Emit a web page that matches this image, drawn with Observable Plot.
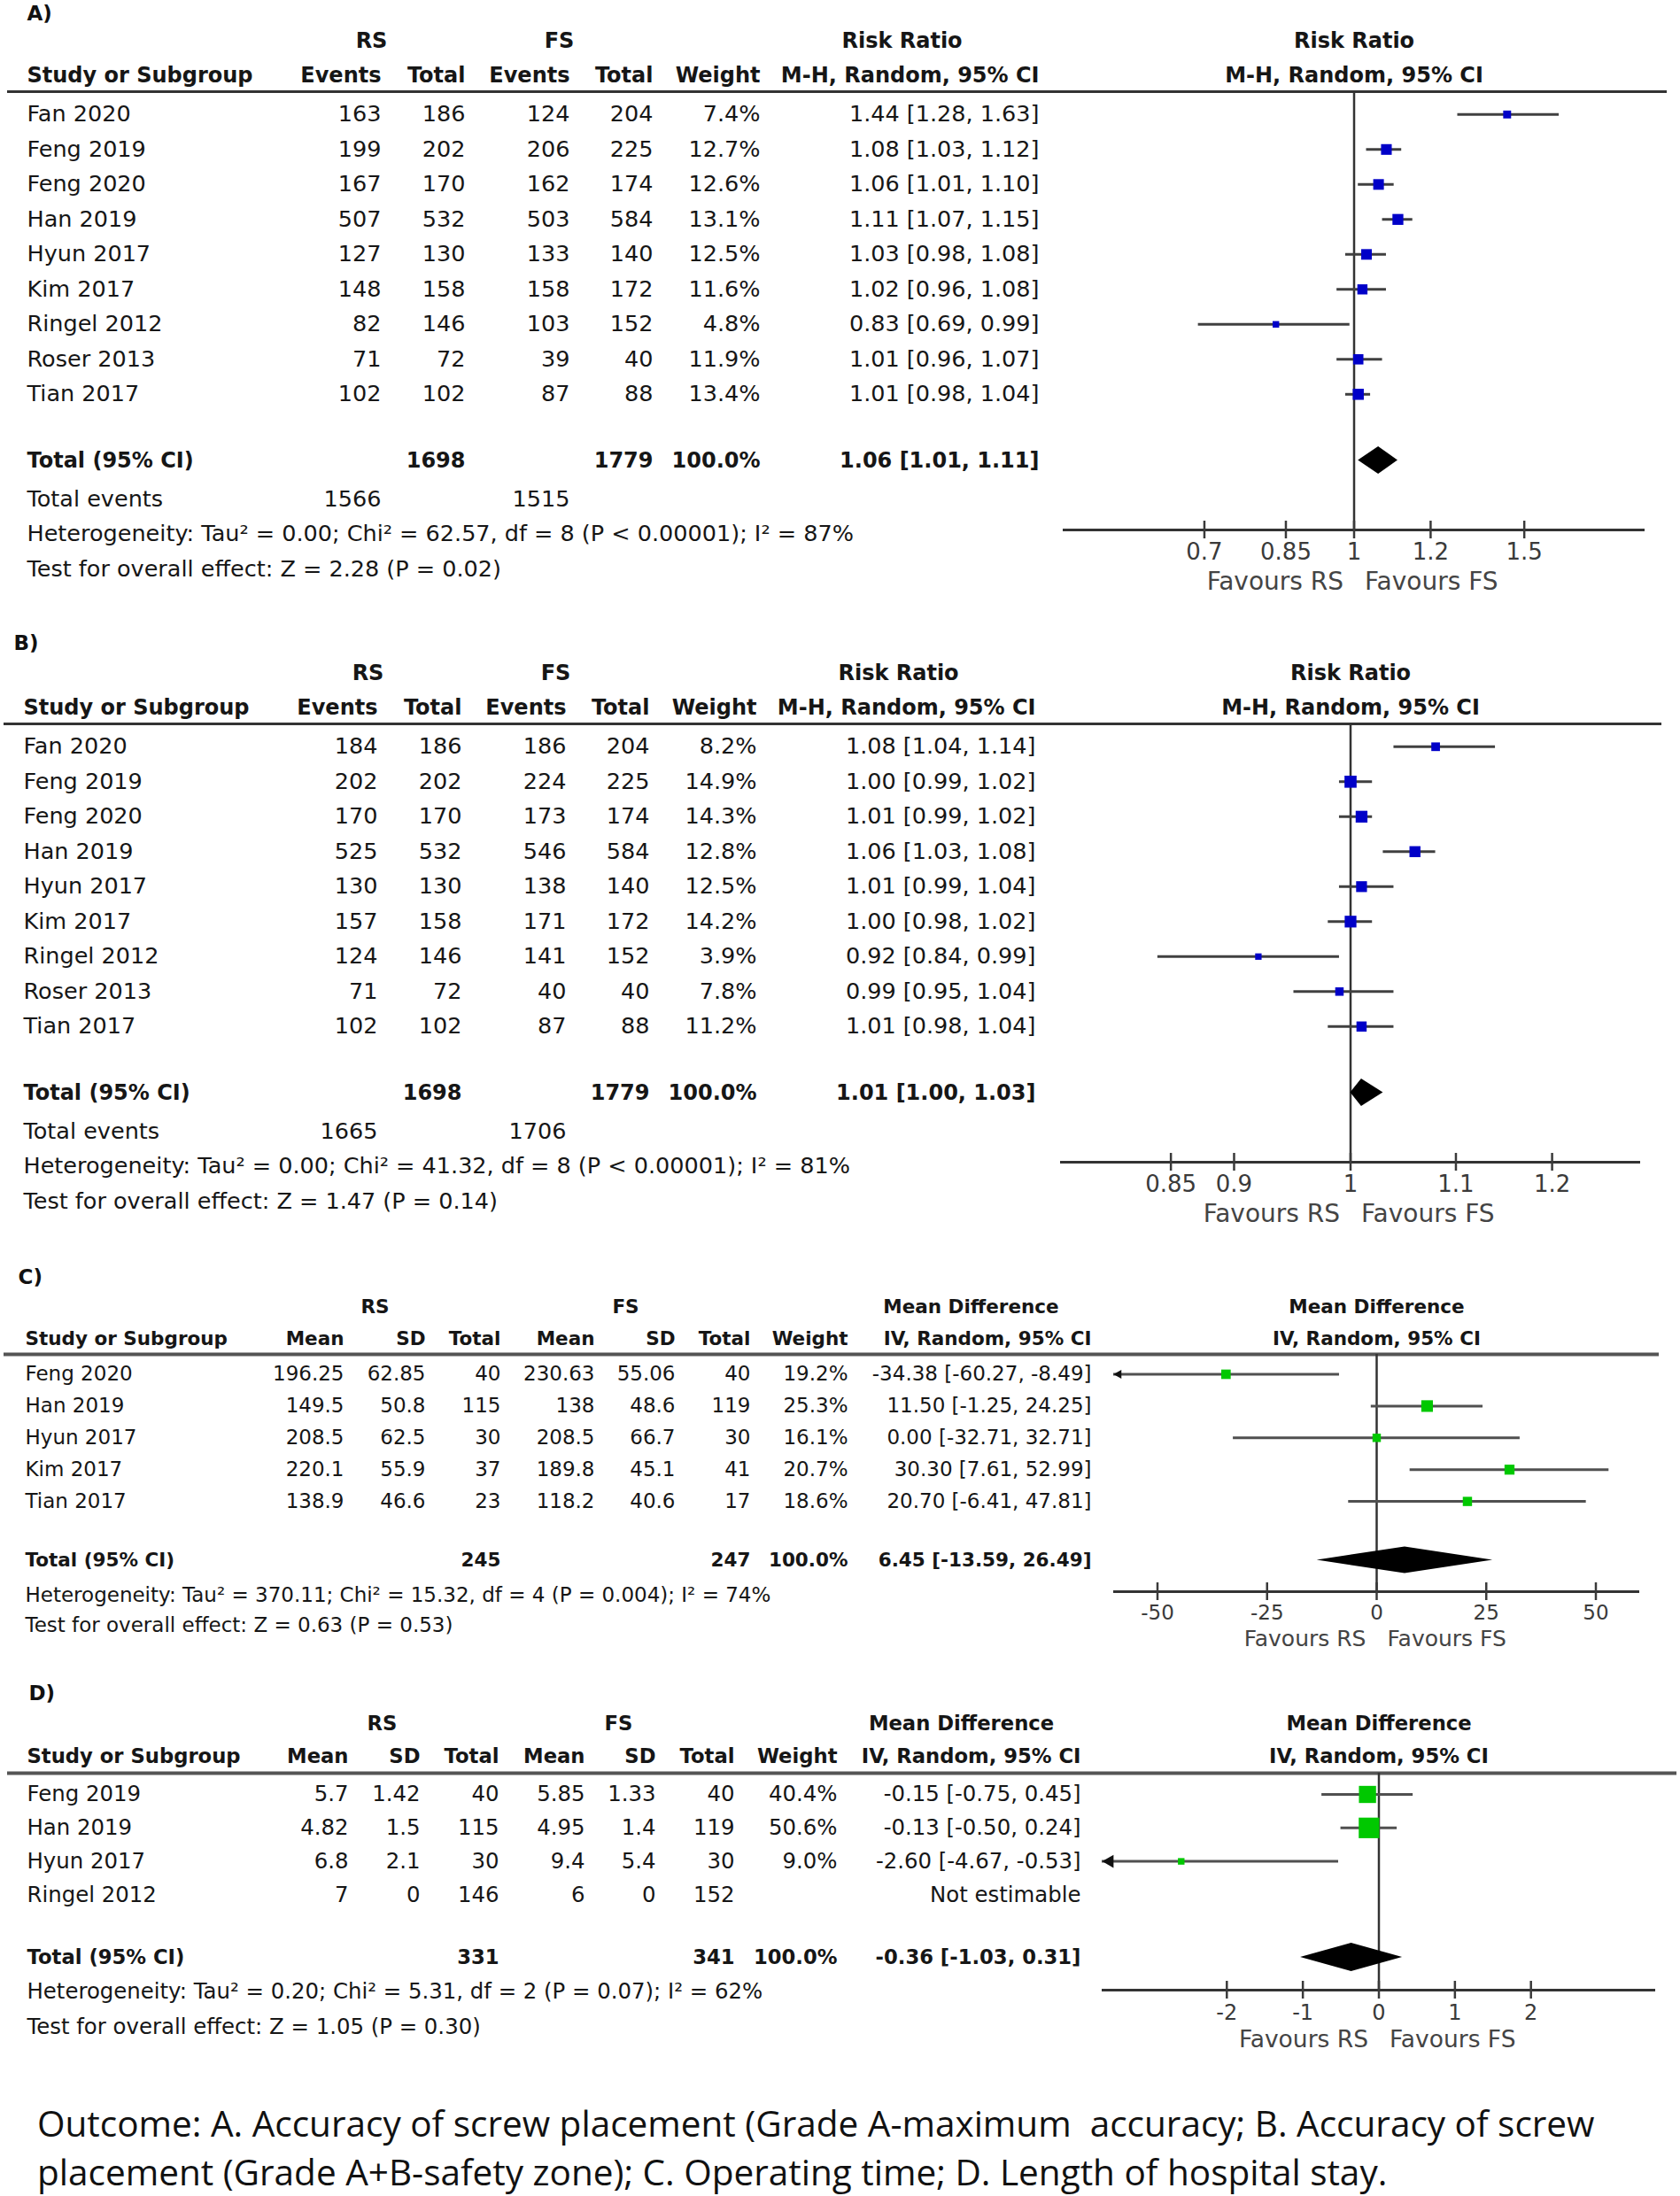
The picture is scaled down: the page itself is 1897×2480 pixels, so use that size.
<!DOCTYPE html>
<html>
<head>
<meta charset="utf-8">
<script src="https://cdn.jsdelivr.net/npm/d3@7"></script>
<script src="https://cdn.jsdelivr.net/npm/@observablehq/plot@0.6"></script>
<style>
  body { margin: 0; background: #fff; }
  #fig { position: relative; width: 1897px; height: 2480px; background: #fff; overflow: hidden; }
  .layer { position: absolute; }
  .capline { position: absolute; left: 42px; font-family: "Open Sans", Lato, sans-serif; font-size: 40.5px; line-height: 44px; height: 44px; color: #111; white-space: pre; }
</style>
</head>
<body>
<div id="fig"></div>
<script>
// ---------------- DATA ----------------
// Panel A – accuracy of screw placement (Grade A)
const studiesA = ["Fan 2020", "Feng 2019", "Feng 2020", "Han 2019", "Hyun 2017", "Kim 2017", "Ringel 2012", "Roser 2013", "Tian 2017"];
const rsEventsA = [163, 199, 167, 507, 127, 148, 82, 71, 102];
const rsTotalA = [186, 202, 170, 532, 130, 158, 146, 72, 102];
const fsEventsA = [124, 206, 162, 503, 133, 158, 103, 39, 87];
const fsTotalA = [204, 225, 174, 584, 140, 172, 152, 40, 88];
const weightA = [7.4, 12.7, 12.6, 13.1, 12.5, 11.6, 4.8, 11.9, 13.4];
const rrA = [1.44, 1.08, 1.06, 1.11, 1.03, 1.02, 0.83, 1.01, 1.01];
const rrLowA = [1.28, 1.03, 1.01, 1.07, 0.98, 0.96, 0.69, 0.96, 0.98];
const rrHighA = [1.63, 1.12, 1.10, 1.15, 1.08, 1.08, 0.99, 1.07, 1.04];
const totalNA = [1698, 1779];
const totalEventsA = [1566, 1515];
const pooledA = [1.06, 1.01, 1.11];
const hetA = "Heterogeneity: Tau² = 0.00; Chi² = 62.57, df = 8 (P < 0.00001); I² = 87%";
const testA = "Test for overall effect: Z = 2.28 (P = 0.02)";
const ticksA = [0.7, 0.85, 1, 1.2, 1.5];

// Panel B – accuracy of screw placement (Grade A+B)
const studiesB = ["Fan 2020", "Feng 2019", "Feng 2020", "Han 2019", "Hyun 2017", "Kim 2017", "Ringel 2012", "Roser 2013", "Tian 2017"];
const rsEventsB = [184, 202, 170, 525, 130, 157, 124, 71, 102];
const rsTotalB = [186, 202, 170, 532, 130, 158, 146, 72, 102];
const fsEventsB = [186, 224, 173, 546, 138, 171, 141, 40, 87];
const fsTotalB = [204, 225, 174, 584, 140, 172, 152, 40, 88];
const weightB = [8.2, 14.9, 14.3, 12.8, 12.5, 14.2, 3.9, 7.8, 11.2];
const rrB = [1.08, 1.00, 1.01, 1.06, 1.01, 1.00, 0.92, 0.99, 1.01];
const rrLowB = [1.04, 0.99, 0.99, 1.03, 0.99, 0.98, 0.84, 0.95, 0.98];
const rrHighB = [1.14, 1.02, 1.02, 1.08, 1.04, 1.02, 0.99, 1.04, 1.04];
const totalNB = [1698, 1779];
const totalEventsB = [1665, 1706];
const pooledB = [1.01, 1.00, 1.03];
const hetB = "Heterogeneity: Tau² = 0.00; Chi² = 41.32, df = 8 (P < 0.00001); I² = 81%";
const testB = "Test for overall effect: Z = 1.47 (P = 0.14)";
const ticksB = [0.85, 0.9, 1, 1.1, 1.2];

// Panel C – operating time
const studiesC = ["Feng 2020", "Han 2019", "Hyun 2017", "Kim 2017", "Tian 2017"];
const rsMeanC = [196.25, 149.5, 208.5, 220.1, 138.9];
const rsSdC = [62.85, 50.8, 62.5, 55.9, 46.6];
const rsNC = [40, 115, 30, 37, 23];
const fsMeanC = [230.63, 138, 208.5, 189.8, 118.2];
const fsSdC = [55.06, 48.6, 66.7, 45.1, 40.6];
const fsNC = [40, 119, 30, 41, 17];
const weightC = [19.2, 25.3, 16.1, 20.7, 18.6];
const mdC = [-34.38, 11.50, 0.00, 30.30, 20.70];
const mdLowC = [-60.27, -1.25, -32.71, 7.61, -6.41];
const mdHighC = [-8.49, 24.25, 32.71, 52.99, 47.81];
const totalNC = [245, 247];
const pooledC = [6.45, -13.59, 26.49];
const hetC = "Heterogeneity: Tau² = 370.11; Chi² = 15.32, df = 4 (P = 0.004); I² = 74%";
const testC = "Test for overall effect: Z = 0.63 (P = 0.53)";
const ticksC = [-50, -25, 0, 25, 50];

// Panel D – length of hospital stay
const studiesD = ["Feng 2019", "Han 2019", "Hyun 2017", "Ringel 2012"];
const rsMeanD = [5.7, 4.82, 6.8, 7];
const rsSdD = [1.42, 1.5, 2.1, 0];
const rsND = [40, 115, 30, 146];
const fsMeanD = [5.85, 4.95, 9.4, 6];
const fsSdD = [1.33, 1.4, 5.4, 0];
const fsND = [40, 119, 30, 152];
const weightD = [40.4, 50.6, 9.0, null];
const mdD = [-0.15, -0.13, -2.60, null];
const mdLowD = [-0.75, -0.50, -4.67, null];
const mdHighD = [0.45, 0.24, -0.53, null];
const totalND = [331, 341];
const pooledD = [-0.36, -1.03, 0.31];
const hetD = "Heterogeneity: Tau² = 0.20; Chi² = 5.31, df = 2 (P = 0.07); I² = 62%";
const testD = "Test for overall effect: Z = 1.05 (P = 0.30)";
const ticksD = [-2, -1, 0, 1, 2];

const headersRR = ["Events", "Total", "Events", "Total", "Weight", "M-H, Random, 95% CI"];
const headersMD = ["Mean", "SD", "Total", "Mean", "SD", "Total", "Weight", "IV, Random, 95% CI"];
const captionLines = [
  "Outcome: A. Accuracy of screw placement (Grade A-maximum  accuracy; B. Accuracy of screw",
  "placement (Grade A+B-safety zone); C. Operating time; D. Length of hospital stay."
];

// ---------------- LAYOUT (positions / styles only) ----------------
const FONT = "DejaVu Sans";
const captionTops = [2376, 2431];
const layoutA = {
  top: 0, H: 714, xShift: 0, fs: 25.5, hfs: 24, labelFs: 23,
  labelPos: [30, 15], groupY: 45.5, headerY: 84.6, ruleY: 103,
  row0: 128.8, rowStep: 39.5, totalY: 519.5, eventsY: 563, hetY: 602, testY: 642,
  ruleX: [8, 1882], ruleStroke: "#333", ruleWidth: 3,
  studyX: 30, colX: [430, 525, 643, 737, 858, 1173], groupX: [419, 631, 1018],
  totalCols: [1, 3], eventCols: [0, 2],
  forestLeft: 1180, axisX: [1200, 1857], axisY: 598, tickFs: 26, tickPad: 5, favFs: 28, favY: 657,
  markColor: "#0000c8", rRange: [2.54, 7.05], diamondHalf: 15.5, ciStroke: "#404040", ciWidth: 3,
  arrowR: 4, arrowDx: 6
};
const layoutB = { ...layoutA, top: 714, xShift: -4, labelPos: [19, 12], ruleX: [4, 1876],
  axisX: [1197, 1852], rRange: [2.82, 7.7] };
const layoutC = {
  top: 1430, H: 470, xShift: 0, fs: 23, hfs: 21.5, labelFs: 23,
  labelPos: [20, 12], groupY: 46, headerY: 81.5, ruleY: 99,
  row0: 121.5, rowStep: 35.9, totalY: 331.5, eventsY: null, hetY: 371, testY: 405,
  ruleX: [4, 1873], ruleStroke: "#555", ruleWidth: 4,
  studyX: 28, colX: [388, 480, 565, 671, 762, 847, 957, 1232], groupX: [423, 706, 1096],
  totalCols: [2, 5], eventCols: [],
  forestLeft: 1200, axisX: [1257, 1851], axisY: 367, tickFs: 23, tickPad: 5, favFs: 25, favY: 420,
  markColor: "#00c800", rRange: [1.7, 7.4], diamondHalf: 15, ciStroke: "#505050", ciWidth: 3,
  arrowR: 3.8, arrowDx: 5.8
};
const layoutD = {
  top: 1900, H: 440, xShift: 0, fs: 24.4, hfs: 22.7, labelFs: 23,
  labelPos: [32, 12], groupY: 46.5, headerY: 83.5, ruleY: 102,
  row0: 126, rowStep: 37.8, totalY: 310, eventsY: null, hetY: 349, testY: 389,
  ruleX: [8, 1893], ruleStroke: "#555", ruleWidth: 4,
  studyX: 30, colX: [393, 474, 563, 660, 740, 829, 945, 1220], groupX: [431, 698, 1085],
  totalCols: [2, 5], eventCols: [],
  forestLeft: 1200, axisX: [1244, 1869], axisY: 347, tickFs: 24, tickPad: 6.5, favFs: 26.5, favY: 403,
  markColor: "#00c800", rRange: [2.26, 13.1], diamondHalf: 16, ciStroke: "#505050", ciWidth: 3,
  arrowR: 5.5, arrowDx: 8.6
};

// ---------------- PANEL SPECS ----------------
const panels = [
  { label: "A)", studies: studiesA, columns: [rsEventsA, rsTotalA, fsEventsA, fsTotalA], headers: headersRR,
    weight: weightA, est: rrA, low: rrLowA, high: rrHighA, totalN: totalNA, events: totalEventsA, pooled: pooledA,
    het: hetA, test: testA, ticks: ticksA, scaleType: "log", domain: [0.5, 2], nullValue: 1,
    groups: ["RS", "FS", "Risk Ratio"], method: "M-H, Random, 95% CI", L: layoutA },
  { label: "B)", studies: studiesB, columns: [rsEventsB, rsTotalB, fsEventsB, fsTotalB], headers: headersRR,
    weight: weightB, est: rrB, low: rrLowB, high: rrHighB, totalN: totalNB, events: totalEventsB, pooled: pooledB,
    het: hetB, test: testB, ticks: ticksB, scaleType: "log", domain: [1 / 1.3, 1.3], nullValue: 1,
    groups: ["RS", "FS", "Risk Ratio"], method: "M-H, Random, 95% CI", L: layoutB },
  { label: "C)", studies: studiesC, columns: [rsMeanC, rsSdC, rsNC, fsMeanC, fsSdC, fsNC], headers: headersMD,
    weight: weightC, est: mdC, low: mdLowC, high: mdHighC, totalN: totalNC, events: null, pooled: pooledC,
    het: hetC, test: testC, ticks: ticksC, scaleType: "linear", domain: [-60, 60], nullValue: 0,
    groups: ["RS", "FS", "Mean Difference"], method: "IV, Random, 95% CI", L: layoutC },
  { label: "D)", studies: studiesD, columns: [rsMeanD, rsSdD, rsND, fsMeanD, fsSdD, fsND], headers: headersMD,
    weight: weightD, est: mdD, low: mdLowD, high: mdHighD, totalN: totalND, events: null, pooled: pooledD,
    het: hetD, test: testD, ticks: ticksD, scaleType: "linear", domain: [-3.64, 3.64], nullValue: 0,
    groups: ["RS", "FS", "Mean Difference"], method: "IV, Random, 95% CI", L: layoutD }
];

const f2 = v => v.toFixed(2);
const ciText = (e, l, h) => `${f2(e)} [${f2(l)}, ${f2(h)}]`;
const TXT = "#161616";

function tablePlot(P) {
  const L = P.L, s = L.xShift;
  const leftReg = [], leftBold = [], rightReg = [], rightBold = [], centerBold = [];
  P.groups.forEach((g, k) => centerBold.push({x: L.groupX[k], y: L.groupY, t: g}));
  leftBold.push({x: L.studyX, y: L.headerY, t: "Study or Subgroup"});
  P.headers.forEach((h, k) => rightBold.push({x: L.colX[k], y: L.headerY, t: h}));
  const nc = P.columns.length;
  P.studies.forEach((name, i) => {
    const y = L.row0 + i * L.rowStep;
    leftReg.push({x: L.studyX, y, t: name});
    P.columns.forEach((col, k) => rightReg.push({x: L.colX[k], y, t: String(col[i])}));
    if (P.weight[i] != null) rightReg.push({x: L.colX[nc], y, t: P.weight[i].toFixed(1) + "%"});
    rightReg.push({x: L.colX[nc + 1], y, t: P.est[i] == null ? "Not estimable" : ciText(P.est[i], P.low[i], P.high[i])});
  });
  leftBold.push({x: L.studyX, y: L.totalY, t: "Total (95% CI)"});
  P.totalN.forEach((v, k) => rightBold.push({x: L.colX[L.totalCols[k]], y: L.totalY, t: String(v)}));
  rightBold.push({x: L.colX[nc], y: L.totalY, t: "100.0%"});
  rightBold.push({x: L.colX[nc + 1], y: L.totalY, t: ciText(...P.pooled)});
  if (P.events) {
    leftReg.push({x: L.studyX, y: L.eventsY, t: "Total events"});
    P.events.forEach((v, k) => rightReg.push({x: L.colX[L.eventCols[k]], y: L.eventsY, t: String(v)}));
  }
  leftReg.push({x: L.studyX, y: L.hetY, t: P.het});
  leftReg.push({x: L.studyX, y: L.testY, t: P.test});

  const X = d => d.x + s;
  return Plot.plot({
    width: 1897, height: L.H, margin: 0,
    x: {domain: [0, 1897], range: [0, 1897], axis: null},
    y: {domain: [0, L.H], range: [0, L.H], axis: null},
    style: {background: "transparent", fontFamily: FONT},
    marks: [
      Plot.ruleY([L.ruleY], {x1: L.ruleX[0], x2: L.ruleX[1], stroke: L.ruleStroke, strokeWidth: L.ruleWidth}),
      Plot.text([{x: L.labelPos[0], y: L.labelPos[1], t: P.label}], {x: X, y: "y", text: "t", textAnchor: "start", fontSize: L.labelFs, fontWeight: "bold", fill: "#111"}),
      Plot.text(leftReg, {x: X, y: "y", text: "t", textAnchor: "start", fontSize: L.fs, fill: TXT}),
      Plot.text(leftBold, {x: X, y: "y", text: "t", textAnchor: "start", fontSize: L.hfs, fontWeight: "bold", fill: TXT}),
      Plot.text(rightReg, {x: X, y: "y", text: "t", textAnchor: "end", fontSize: L.fs, fill: TXT}),
      Plot.text(rightBold, {x: X, y: "y", text: "t", textAnchor: "end", fontSize: L.hfs, fontWeight: "bold", fill: TXT}),
      Plot.text(centerBold, {x: X, y: "y", text: "t", textAnchor: "middle", fontSize: L.hfs, fontWeight: "bold", fill: TXT})
    ]
  });
}

function forestPlot(P) {
  const L = P.L;
  const [dmin, dmax] = P.domain;
  const pts = P.studies.map((name, i) => ({
    y: L.row0 + i * L.rowStep, est: P.est[i], low: P.low[i], high: P.high[i], w: P.weight[i]
  })).filter(d => d.est != null);
  const [te, tl, th] = P.pooled;
  const diamond = [
    {x: tl, y1: L.totalY, y2: L.totalY},
    {x: te, y1: L.totalY - L.diamondHalf, y2: L.totalY + L.diamondHalf},
    {x: th, y1: L.totalY, y2: L.totalY}
  ];
  const width = 1897 - L.forestLeft;
  const nv = [P.nullValue];
  return Plot.plot({
    width, height: L.H,
    marginLeft: L.axisX[0] - L.forestLeft, marginRight: 1897 - L.axisX[1],
    marginTop: 0, marginBottom: L.H - L.axisY,
    x: {type: P.scaleType, domain: P.domain},
    y: {domain: [0, L.H], range: [0, L.H], axis: null},
    r: {type: "linear", domain: [0, d3.max(pts, d => d.w)], range: L.rRange},
    style: {background: "transparent", fontFamily: FONT, overflow: "visible"},
    marks: [
      Plot.ruleX(nv, {x: d => d, y1: L.ruleY, y2: L.axisY, stroke: "#333", strokeWidth: 2.5}),
      Plot.ruleY([L.axisY], {stroke: "#333", strokeWidth: 3}),
      Plot.axisX({anchor: "bottom", ticks: P.ticks, tickFormat: d => String(d), tickSize: 20, dy: -10,
        tickPadding: L.tickPad, fontSize: L.tickFs, color: "#3a3a3a", strokeWidth: 2.5, label: null}),
      Plot.ruleY(pts, {y: "y", x1: d => Math.max(d.low, dmin), x2: d => Math.min(d.high, dmax), stroke: L.ciStroke, strokeWidth: L.ciWidth}),
      Plot.dot(pts.filter(d => d.low < dmin), {x: () => dmin, y: "y", symbol: "triangle", rotate: -90, r: L.arrowR, dx: L.arrowDx, fill: "#111"}),
      Plot.dot(pts, {x: "est", y: "y", r: "w", symbol: "square", fill: L.markColor}),
      Plot.areaY(diamond, {x: "x", y1: "y1", y2: "y2", fill: "#000", curve: "linear"}),
      Plot.text(nv, {x: d => d, y: L.groupY, text: () => P.groups[2], fontSize: L.hfs, fontWeight: "bold", fill: TXT}),
      Plot.text(nv, {x: d => d, y: L.headerY, text: () => P.method, fontSize: L.hfs, fontWeight: "bold", fill: TXT}),
      Plot.text(nv, {x: d => d, y: L.favY, text: () => "Favours RS", textAnchor: "end", dx: -12, fontSize: L.favFs, fill: "#444"}),
      Plot.text(nv, {x: d => d, y: L.favY, text: () => "Favours FS", textAnchor: "start", dx: 12, fontSize: L.favFs, fill: "#444"})
    ]
  });
}

const fig = document.getElementById("fig");
for (const P of panels) {
  const L = P.L;
  const t = document.createElement("div");
  t.className = "layer";
  t.style.left = "0px"; t.style.top = L.top + "px"; t.style.width = "1897px";
  t.appendChild(tablePlot(P));
  fig.appendChild(t);
  const f = document.createElement("div");
  f.className = "layer";
  f.style.left = L.forestLeft + "px"; f.style.top = L.top + "px"; f.style.width = (1897 - L.forestLeft) + "px";
  f.appendChild(forestPlot(P));
  fig.appendChild(f);
}
captionLines.forEach((line, k) => {
  const c = document.createElement("div");
  c.className = "capline";
  c.style.top = captionTops[k] + "px";
  c.textContent = line;
  fig.appendChild(c);
});
</script>
</body>
</html>
